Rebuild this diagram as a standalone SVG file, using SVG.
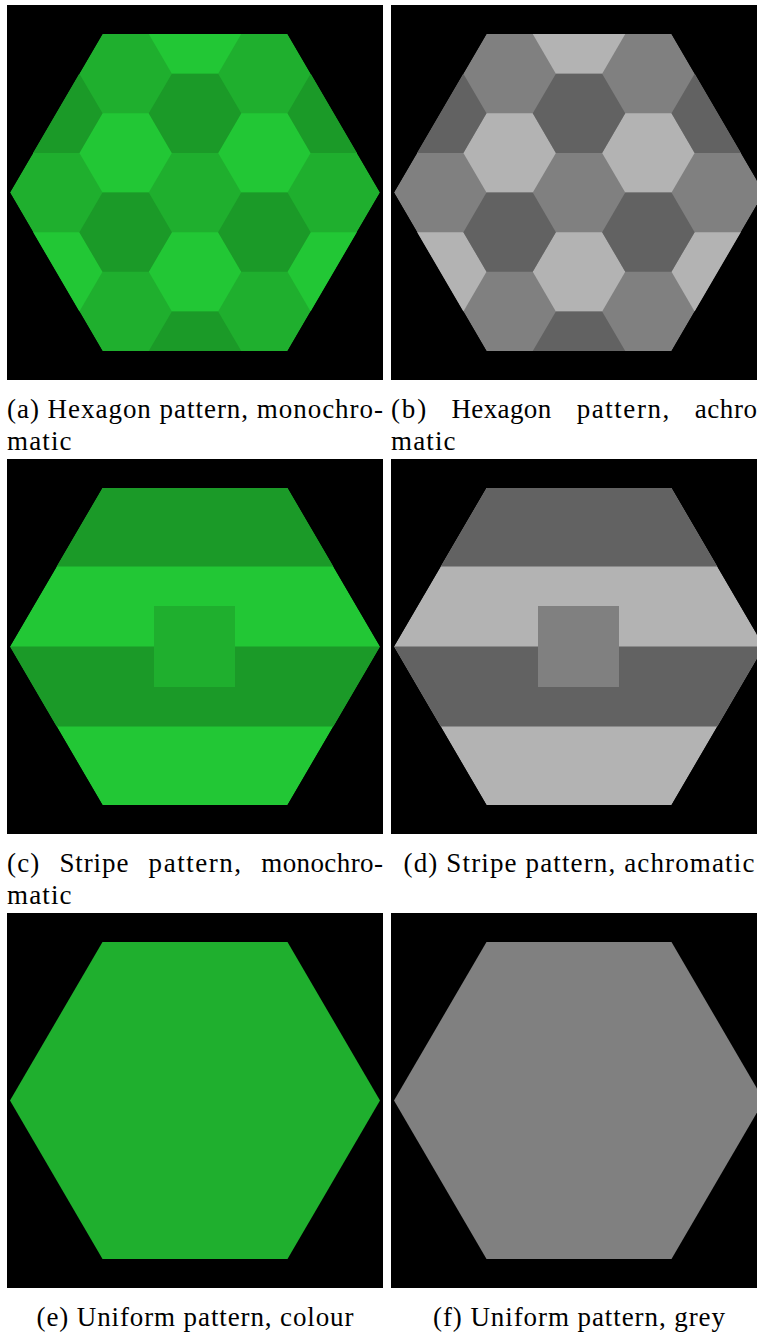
<svg xmlns="http://www.w3.org/2000/svg" xmlns:xlink="http://www.w3.org/1999/xlink" width="757" height="1333" viewBox="0 0 757 1333">
  <style>
    .panel { fill: #000; }
    .gM { fill: #1faf2e; }
    .gL { fill: #22c735; }
    .gD { fill: #1b9a28; }
    .kM { fill: #808080; }
    .kL { fill: #b3b3b3; }
    .kD { fill: #626262; }
    .cap { font-family: "Liberation Serif", "Times New Roman", serif; font-size: 27px; fill: #000; }
  </style>
  <defs>
    <!-- large flat-topped hexagon, centred on the origin -->
    <polygon id="big" points="185,0 92.5,158.5 -92.5,158.5 -185,0 -92.5,-158.5 92.5,-158.5"/>
    <clipPath id="bigClip">
      <polygon points="185,0 92.5,158.5 -92.5,158.5 -185,0 -92.5,-158.5 92.5,-158.5"/>
    </clipPath>
    <!-- one cell of the honeycomb -->
    <polygon id="tile" points="46.25,0 23.125,39.625 -23.125,39.625 -46.25,0 -23.125,-39.625 23.125,-39.625"/>
  </defs>

  <rect width="757" height="1333" fill="#fff"/>

  <!-- (a) honeycomb, green -->
  <g id="panel-a">
    <rect class="panel" x="7" y="5" width="376" height="375"/>
    <g transform="translate(195,192.5)" clip-path="url(#bigClip)">
      <use href="#big" class="gM"/>
      <use href="#tile" class="gL" x="0" y="-158.5"/>
      <use href="#tile" class="gL" x="0" y="79.25"/>
      <use href="#tile" class="gL" x="-69.375" y="-39.625"/>
      <use href="#tile" class="gL" x="69.375" y="-39.625"/>
      <use href="#tile" class="gL" x="-138.75" y="79.25"/>
      <use href="#tile" class="gL" x="138.75" y="79.25"/>
      <use href="#tile" class="gD" x="0" y="-79.25"/>
      <use href="#tile" class="gD" x="0" y="158.5"/>
      <use href="#tile" class="gD" x="-69.375" y="39.625"/>
      <use href="#tile" class="gD" x="69.375" y="39.625"/>
      <use href="#tile" class="gD" x="-138.75" y="-79.25"/>
      <use href="#tile" class="gD" x="138.75" y="-79.25"/>
    </g>
    <text class="cap" x="7" y="418" textLength="376">(a) Hexagon pattern, monochro-</text>
    <text class="cap" x="7" y="450" textLength="64.5">matic</text>
  </g>

  <!-- (b) honeycomb, grey -->
  <g id="panel-b">
    <rect class="panel" x="391" y="5" width="376" height="375"/>
    <g transform="translate(579,192.5)" clip-path="url(#bigClip)">
      <use href="#big" class="kM"/>
      <use href="#tile" class="kL" x="0" y="-158.5"/>
      <use href="#tile" class="kL" x="0" y="79.25"/>
      <use href="#tile" class="kL" x="-69.375" y="-39.625"/>
      <use href="#tile" class="kL" x="69.375" y="-39.625"/>
      <use href="#tile" class="kL" x="-138.75" y="79.25"/>
      <use href="#tile" class="kL" x="138.75" y="79.25"/>
      <use href="#tile" class="kD" x="0" y="-79.25"/>
      <use href="#tile" class="kD" x="0" y="158.5"/>
      <use href="#tile" class="kD" x="-69.375" y="39.625"/>
      <use href="#tile" class="kD" x="69.375" y="39.625"/>
      <use href="#tile" class="kD" x="-138.75" y="-79.25"/>
      <use href="#tile" class="kD" x="138.75" y="-79.25"/>
    </g>
    <text class="cap" x="391" y="418" textLength="35.2">(b)</text>
    <text class="cap" x="451.5" y="418" textLength="99.7">Hexagon</text>
    <text class="cap" x="576.7" y="418" textLength="92.5">pattern,</text>
    <text class="cap" x="694.7" y="418" textLength="71.9">achro-</text>
    <text class="cap" x="391" y="450" textLength="64.5">matic</text>
  </g>

  <!-- (c) stripes, green -->
  <g id="panel-c">
    <rect class="panel" x="7" y="459" width="376" height="375"/>
    <g transform="translate(195,646.5)" clip-path="url(#bigClip)">
      <use href="#big" class="gL"/>
      <rect class="gD" x="-186" y="-160" width="372" height="80"/>
      <rect class="gD" x="-186" y="0" width="372" height="80"/>
      <rect class="gM" x="-41" y="-40.5" width="81" height="81"/>
    </g>
    <text class="cap" x="7" y="872" textLength="32.3">(c)</text>
    <text class="cap" x="59.4" y="872" textLength="69">Stripe</text>
    <text class="cap" x="148.6" y="872" textLength="92.5">pattern,</text>
    <text class="cap" x="261.2" y="872" textLength="121.8">monochro-</text>
    <text class="cap" x="7" y="904" textLength="64.5">matic</text>
  </g>

  <!-- (d) stripes, grey -->
  <g id="panel-d">
    <rect class="panel" x="391" y="459" width="376" height="375"/>
    <g transform="translate(579,646.5)" clip-path="url(#bigClip)">
      <use href="#big" class="kL"/>
      <rect class="kD" x="-186" y="-160" width="372" height="80"/>
      <rect class="kD" x="-186" y="0" width="372" height="80"/>
      <rect class="kM" x="-41" y="-40.5" width="81" height="81"/>
    </g>
    <text class="cap" x="403.6" y="872" textLength="350.8">(d) Stripe pattern, achromatic</text>
  </g>

  <!-- (e) uniform, green -->
  <g id="panel-e">
    <rect class="panel" x="7" y="913" width="376" height="375"/>
    <use href="#big" class="gM" transform="translate(195,1100.5)"/>
    <text class="cap" x="36.5" y="1326" textLength="317">(e) Uniform pattern, colour</text>
  </g>

  <!-- (f) uniform, grey -->
  <g id="panel-f">
    <rect class="panel" x="391" y="913" width="376" height="375"/>
    <use href="#big" class="kM" transform="translate(579,1100.5)"/>
    <text class="cap" x="433" y="1326" textLength="292">(f) Uniform pattern, grey</text>
  </g>
</svg>
